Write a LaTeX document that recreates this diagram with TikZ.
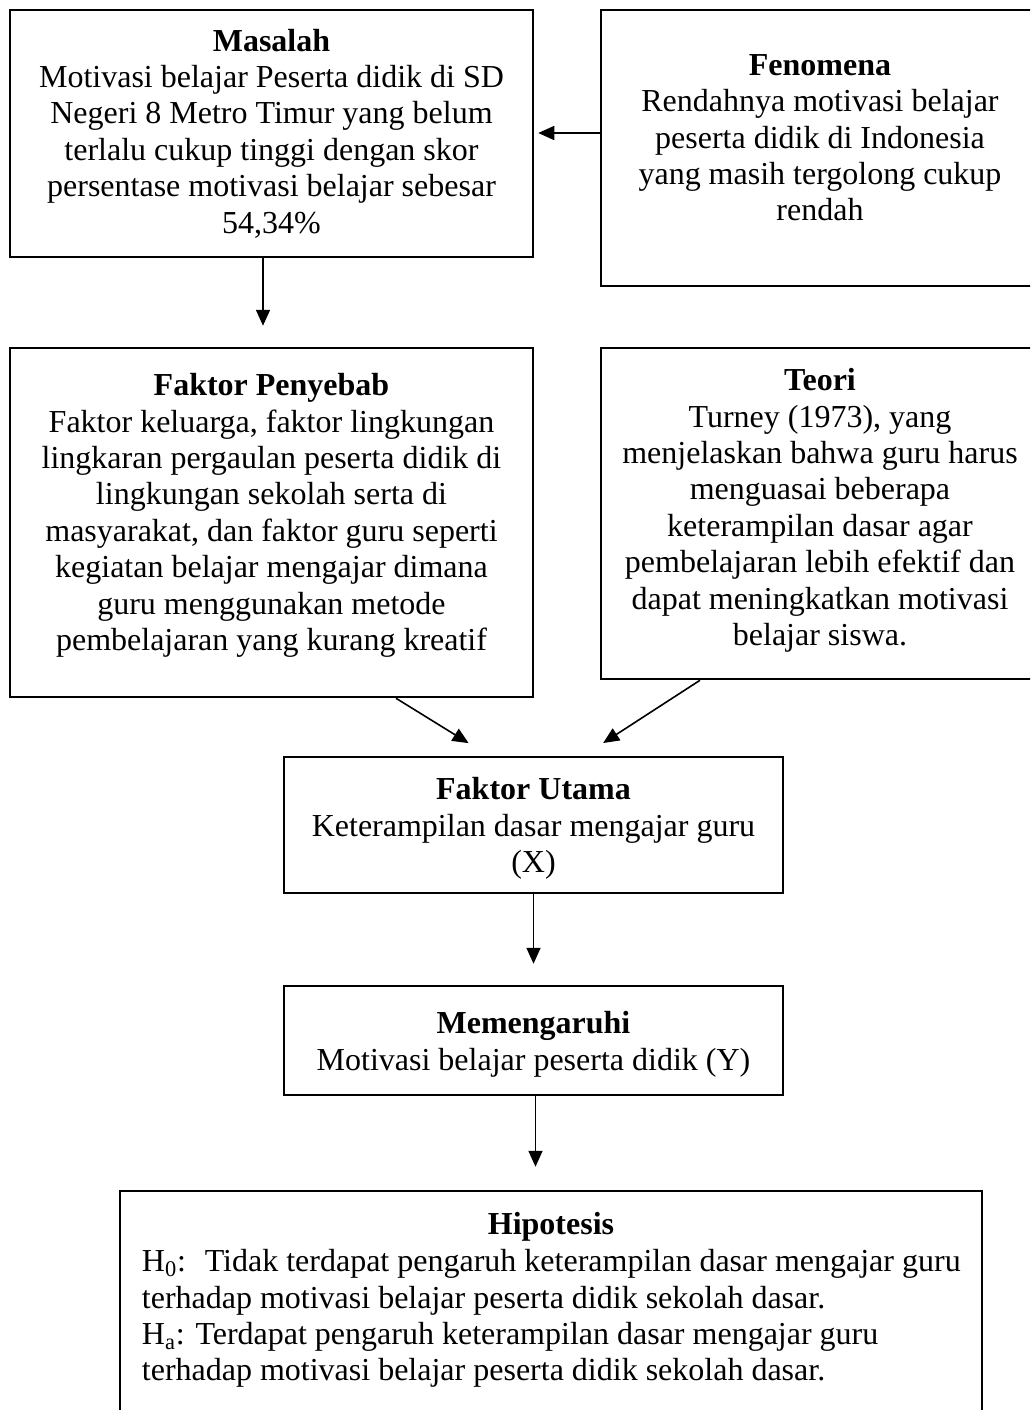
\documentclass[tikz,border=0pt]{standalone}
\usepackage{fontspec}
\setmainfont{Liberation Serif}
\usetikzlibrary{arrows.meta}
\begin{document}
\begin{tikzpicture}[x=0.5pt,y=-0.5pt,
  box/.style={draw, line width=1.25pt, rectangle, inner sep=0pt},
  txt/.style={align=center, inner sep=0pt, anchor=north, font=\fontsize{16}{18.2}\selectfont},
  txtl/.style={align=left, inner sep=0pt, anchor=north west, font=\fontsize{16}{18.2}\selectfont},
  arr/.style={line width=0.8pt, -{Triangle[length=8pt,width=7pt]}}]
\useasboundingbox (0,0) rectangle (1030,1410);
\clip (0,0) rectangle (1030,1410);
\fill[white] (0,0) rectangle (1030,1410);
% boxes
\node[box, minimum width=261.5pt, minimum height=123.5pt] (masalah) at (271.5,133.5) {};
\node[box, minimum width=219pt, minimum height=138pt] (fenomena) at (820,148) {};
\node[box, minimum width=261.5pt, minimum height=174.5pt] (penyebab) at (271.5,522.5) {};
\node[box, minimum width=219pt, minimum height=165.5pt] (teori) at (820,513.5) {};
\node[box, minimum width=249.5pt, minimum height=68pt] (utama) at (533.5,825) {};
\node[box, minimum width=249.5pt, minimum height=54.5pt] (pengaruh) at (533.5,1040.5) {};
\node[box, minimum width=431pt, minimum height=130pt] (hipotesis) at (551,1321) {};
% texts
\node[txt] (masalah-t) at (271.5,28.5) {\textbf{Masalah}\\ Motivasi belajar Peserta didik di SD\\ Negeri 8 Metro Timur yang belum\\ terlalu cukup tinggi dengan skor\\ persentase motivasi belajar sebesar\\ 54,34\%};
\node[txt] (fenomena-t) at (820,54) {\textbf{Fenomena}\\ Rendahnya motivasi belajar\\ peserta didik di Indonesia\\ yang masih tergolong cukup\\ rendah};
\node[txt] (penyebab-t) at (271.5,373) {\textbf{Faktor Penyebab}\\ Faktor keluarga, faktor lingkungan\\ lingkaran pergaulan peserta didik di\\ lingkungan sekolah serta di\\ masyarakat, dan faktor guru seperti\\ kegiatan belajar mengajar dimana\\ guru menggunakan metode\\ pembelajaran yang kurang kreatif};
\node[txt] (teori-t) at (820,368) {\textbf{Teori}\\ Turney (1973), yang\\ menjelaskan bahwa guru harus\\ menguasai beberapa\\ keterampilan dasar agar\\ pembelajaran lebih efektif dan\\ dapat meningkatkan motivasi\\ belajar siswa.};
\node[txt] (utama-t) at (533.5,777) {\textbf{Faktor Utama}\\ Keterampilan dasar mengajar guru\\ (X)};
\node[txt] (pengaruh-t) at (533.5,1011) {\textbf{Memengaruhi}\\ Motivasi belajar peserta didik (Y)};
\node[txt] (hipotesis-t) at (551,1212) {\textbf{Hipotesis}};
\node[txtl] (hipotesis-b) at (141.5,1249) {H\textsubscript{0}:~ Tidak terdapat pengaruh keterampilan dasar mengajar guru\\ terhadap motivasi belajar peserta didik sekolah dasar.\\ H\textsubscript{a}: Terdapat pengaruh keterampilan dasar mengajar guru\\ terhadap motivasi belajar peserta didik sekolah dasar.};
% connectors
\coordinate (f1) at ([yshift=7.5pt]fenomena.west);
\draw[arr, shorten >=2pt] (f1) -- (f1 -| masalah.east);
\coordinate (m1) at ([xshift=-4.25pt]masalah.south);
\draw[arr, shorten >=10.5pt] (m1) -- (m1 |- penyebab.north);
\coordinate (p1) at ([xshift=62.25pt]penyebab.south);
\coordinate (u1) at ([xshift=-22.25pt]utama.north);
\draw[arr, shorten >=12pt] (p1) -- (u1);
\coordinate (t1) at ([xshift=-60pt]teori.south);
\coordinate (u2) at ([xshift=25pt]utama.north);
\draw[arr, shorten >=11.7pt] (t1) -- (u2);
\draw[arr, shorten >=10.5pt] (utama.south) -- (pengaruh.north);
\coordinate (g1) at ([xshift=1pt]pengaruh.south);
\draw[arr, shorten >=11.5pt] (g1) -- (g1 |- hipotesis.north);
\end{tikzpicture}
\end{document}
